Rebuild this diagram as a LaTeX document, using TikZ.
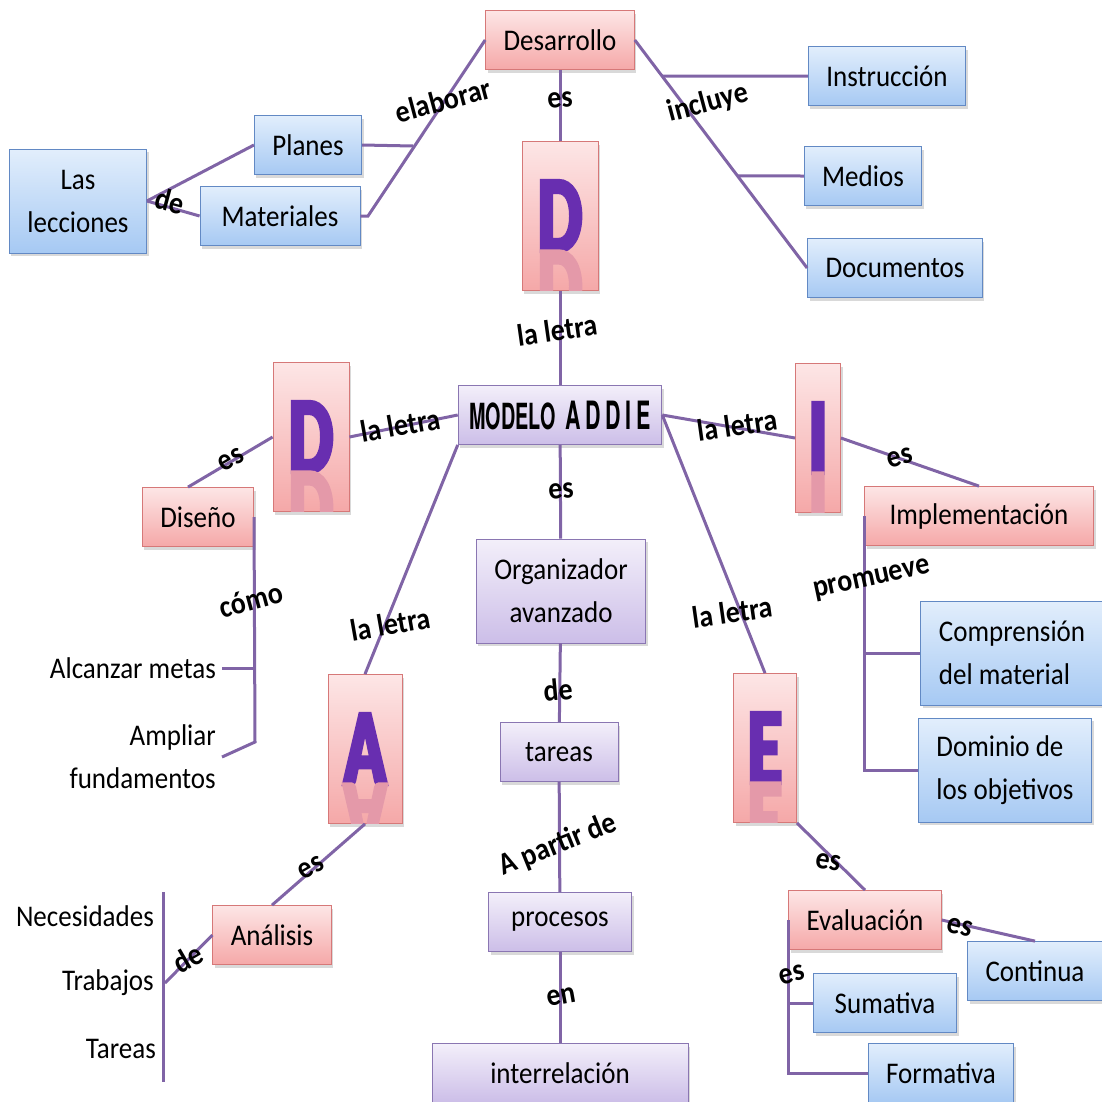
\documentclass[tikz,border=0pt]{standalone}
\usepackage{fontspec}
\setmainfont{Carlito}[FakeStretch=0.9]
\newfontfamily\letterfont{Carlito}[FakeStretch=0.64,FakeBold=4]
\newfontfamily\addiefont{TeX Gyre Heros}[FakeStretch=0.55]
\newfontfamily\addiewide{TeX Gyre Heros}[FakeStretch=0.55,LetterSpace=12]
\usetikzlibrary{shadows,calc}
\definecolor{linkc}{RGB}{128,100,166}
\definecolor{pinkline}{RGB}{214,120,120}
\definecolor{pinktop}{RGB}{253,230,230}
\definecolor{pinkbot}{RGB}{245,168,168}
\definecolor{blueline}{RGB}{98,137,196}
\definecolor{bluetop}{RGB}{226,238,252}
\definecolor{bluebot}{RGB}{166,201,243}
\definecolor{lilacline}{RGB}{138,118,178}
\definecolor{lilactop}{RGB}{243,239,250}
\definecolor{lilacbot}{RGB}{204,190,232}
\definecolor{letterc}{RGB}{104,46,176}

\begin{document}
\begin{tikzpicture}[
    x=1pt, y=-1pt,
    box/.style={rectangle, draw, line width=0.8pt, inner xsep=18pt, inner ysep=15pt, minimum height=59pt, align=center, font=\fontsize{30}{43}\selectfont, drop shadow={shadow xshift=2pt, shadow yshift=-3pt, opacity=0.3}},
    twoline/.style={minimum height=104pt},
    pinkbox/.style={box, draw=pinkline, top color=pinktop, bottom color=pinkbot},
    bluebox/.style={box, draw=blueline, top color=bluetop, bottom color=bluebot},
    lilacbox/.style={box, draw=lilacline, top color=lilactop, bottom color=lilacbot},
    letterbox/.style={pinkbox, minimum height=149pt},
    bigletter/.style={inner sep=0pt, text=letterc, font=\letterfont\bfseries\fontsize{108}{108}\selectfont},
    plain/.style={anchor=east, align=right, inner sep=6pt, font=\fontsize{30}{43}\selectfont},
    word/.style={inner sep=0pt, font=\bfseries\fontsize{31}{31}\selectfont},
    link/.style={draw=linkc, line width=3pt}
]
    \useasboundingbox (0,0) rectangle (1102,1101);
    \clip (0,0) rectangle (1102,1101);

    \node[pinkbox] (desarrollo) at (560,40) {Desarrollo};
    \node[letterbox, minimum width=76pt] (dtop) at (560,216) {};
    \node[bluebox] (instruccion) at (887,76) {Instrucción};
    \node[bluebox] (medios) at (863,176) {Medios};
    \node[bluebox] (documentos) at (895,268) {Documentos};
    \node[bluebox] (planes) at (308,145) {Planes};
    \node[bluebox, minimum width=160pt] (materiales) at (280,216) {Materiales};
    \node[bluebox, twoline] (lecciones) at (78,201) {Las\\lecciones};

    \node[lilacbox, inner xsep=11pt] (modelo) at (560,415) {{\addiefont\bfseries\fontsize{36}{36}\selectfont MODELO}\hspace{10pt}{\addiewide\bfseries\fontsize{39}{39}\selectfont ADDIE}};
    \node[letterbox, minimum width=76pt] (dleft) at (311,437) {};
    \node[pinkbox] (diseno) at (198,517) {Diseño};
    \node[letterbox, minimum width=45pt] (iright) at (818,438) {};
    \node[pinkbox, minimum width=229pt] (implementacion) at (979,516) {Implementación};
    \node[lilacbox, twoline] (organizador) at (561,591) {Organizador\\avanzado};
    \node[letterbox, minimum width=74pt] (aletter) at (365,749) {};
    \node[letterbox, minimum width=63pt] (eletter) at (765,748) {};
    \node[bluebox, twoline, align=left] (comprension) at (1012,653) {Comprensión\\del material};
    \node[bluebox, twoline, align=left] (dominio) at (1005,770) {Dominio de\\los objetivos};

    \node[lilacbox, minimum width=118pt] (tareas) at (559,752) {tareas};
    \node[lilacbox, minimum width=143pt] (procesos) at (560,922) {procesos};
    \node[lilacbox, minimum width=256pt] (interrelacion) at (560,1073) {interrelación};
    \node[pinkbox] (analisis) at (272,935) {Análisis};
    \node[pinkbox] (evaluacion) at (865,920) {Evaluación};
    \node[bluebox] (continua) at (1035,971) {Continua};
    \node[bluebox, minimum width=143pt] (sumativa) at (885,1003) {Sumativa};
    \node[bluebox] (formativa) at (941,1073) {Formativa};

    \node[plain] (alcanzar) at (222,668) {Alcanzar metas};
    \node[plain] (ampliar) at (222,757) {Ampliar\\fundamentos};
    \node[plain] (necesidades) at (160,916) {Necesidades};
    \node[plain] (trabajos) at (160,983) {Trabajos};
    \node[plain] (tareaslist) at (162,1049) {Tareas};

    \foreach \b/\l in {dtop/D, dleft/D, iright/I, aletter/A, eletter/E}{
        \node[bigletter] (\b-l) at (\b) {\l};
        \begin{scope}
            \clip (\b.south west) rectangle (\b.north east);
            \node[bigletter, text=letterc!12!pinkbot, anchor=north] at (\b-l.south) {\scalebox{1}[-1]{\l}};
        \end{scope}
    }

    \coordinate (matj) at (368,216);
    \coordinate (plnj) at (413,146);
    \coordinate (insj) at ($(desarrollo.east)!0.158!(documentos.west)$);
    \coordinate (medj) at ($(desarrollo.east)!0.596!(documentos.west)$);
    \coordinate (disb) at (255,742);
    \coordinate (anaj) at (165,983);
    \coordinate (listtop) at (163,892);
    \coordinate (listbot) at (163,1082);

    \draw[link] (desarrollo) -- (dtop);
    \draw[link] (dtop) -- (modelo);
    \draw[link] (desarrollo.west) -- (matj) -- (materiales.east);
    \draw[link] (planes.east) -- (plnj);
    \draw[link] (lecciones.east) -- (planes.west);
    \draw[link] (lecciones.east) -- (materiales.west);
    \draw[link] (desarrollo.east) -- (documentos.west);
    \draw[link] (insj) -- (instruccion.west);
    \draw[link] (medj) -- (medios.west);

    \draw[link] (modelo.west) -- (dleft.east);
    \draw[link] (dleft.west) -- ([xshift=-10pt]diseno.north);
    \draw[link] (diseno.east) -- (disb) -- (ampliar.east);
    \draw[link] (alcanzar.east) -- (alcanzar.east -| diseno.east);
    \draw[link] (modelo.south west) -- (aletter.north);
    \draw[link] (aletter.south) -- (analisis.north);
    \draw[link] (analisis.west) -- (anaj);
    \draw[link] (listtop) -- (listbot);

    \draw[link] (modelo) -- (organizador);
    \draw[link] (organizador) -- (tareas);
    \draw[link] (tareas) -- (procesos);
    \draw[link] (procesos) -- (interrelacion);

    \draw[link] (modelo.east) -- (iright.west);
    \draw[link] (iright.east) -- (implementacion.north);
    \draw[link] (implementacion.west) |- (dominio.west);
    \draw[link] (implementacion.west |- comprension.west) -- (comprension.west);
    \draw[link] (modelo.east) -- (eletter.north);
    \draw[link] (eletter.south east) -- (evaluacion.north);
    \draw[link] (evaluacion.east) -- (continua.north);
    \draw[link] (evaluacion.west) |- (formativa.west);
    \draw[link] (evaluacion.west |- sumativa.west) -- (sumativa.west);

    \node[word, rotate=5] (w-es1) at (560,100) {es};
    \node[word, rotate=8] (w-letra1) at (557,330) {la letra};
    \node[word, rotate=15] (w-elaborar) at (443,100) {elaborar};
    \node[word, rotate=-15] (w-de1) at (170,201) {de};
    \node[word, rotate=15] (w-incluye) at (708,103) {incluye};
    \node[word, rotate=10] (w-letra2) at (400,425) {la letra};
    \node[word, rotate=30] (w-es2) at (231,460) {es};
    \node[word, rotate=15] (w-como) at (251,600) {cómo};
    \node[word, rotate=10] (w-letra3) at (390,624) {la letra};
    \node[word, rotate=30] (w-es3) at (311,868) {es};
    \node[word, rotate=30] (w-de2) at (188,958) {de};
    \node[word, rotate=5] (w-es4) at (561,491) {es};
    \node[word, rotate=5] (w-de3) at (558,690) {de};
    \node[word, rotate=22] (w-partir) at (558,845) {A partir de};
    \node[word, rotate=10] (w-en) at (561,997) {en};
    \node[word, rotate=8] (w-letra4) at (737,425) {la letra};
    \node[word, rotate=15] (w-es5) at (900,458) {es};
    \node[word, rotate=12] (w-promueve) at (872,580) {promueve};
    \node[word, rotate=8] (w-letra5) at (732,612) {la letra};
    \node[word, rotate=-10] (w-es6) at (828,862) {es};
    \node[word, rotate=-15] (w-es7) at (960,927) {es};
    \node[word, rotate=15] (w-es8) at (792,975) {es};
\end{tikzpicture}
\end{document}
